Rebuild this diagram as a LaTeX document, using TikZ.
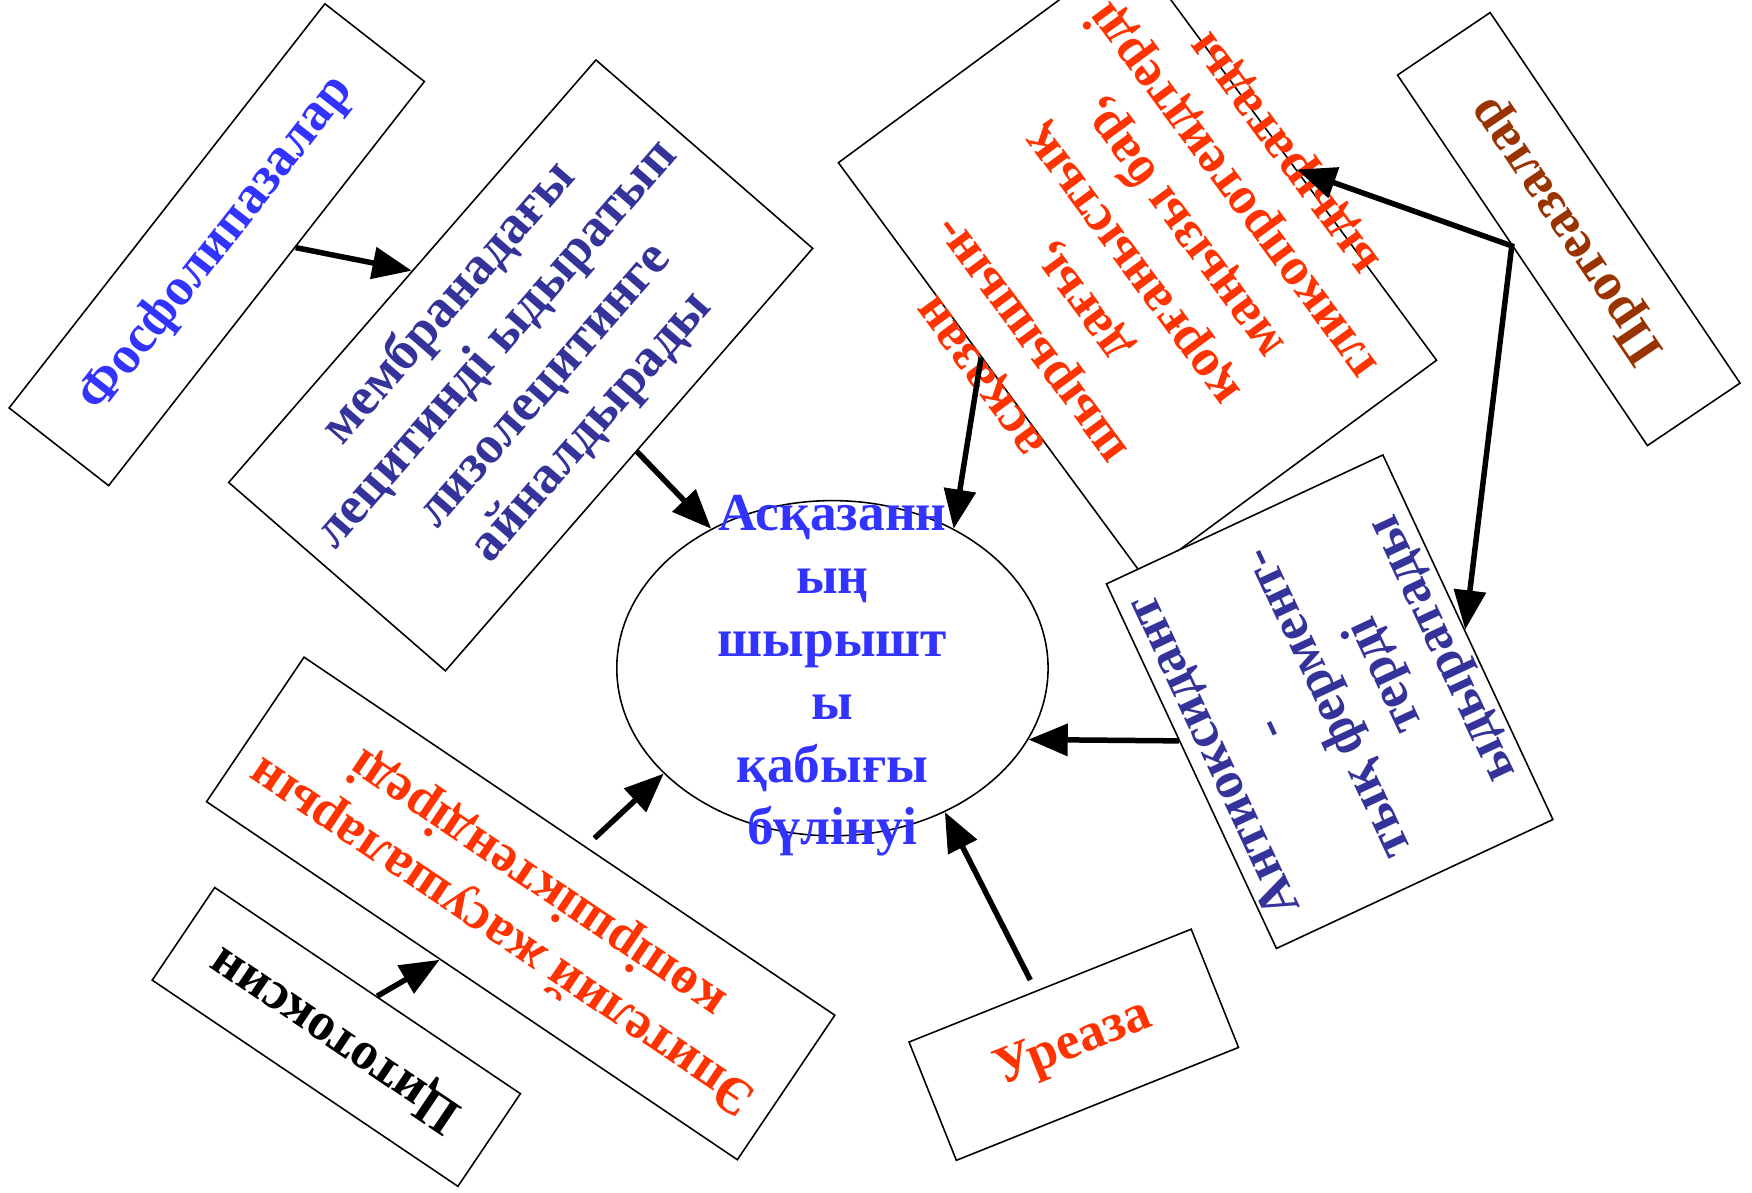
\documentclass[tikz,border=0pt]{standalone}
\usepackage{fontspec}
\setmainfont{Liberation Serif}
\usetikzlibrary{arrows.meta,calc,shapes.geometric}
\definecolor{txtblue}{HTML}{3333FF}
\definecolor{txtnavy}{HTML}{333399}
\definecolor{txtred}{HTML}{FF3300}
\definecolor{txtbrown}{HTML}{993300}

\begin{document}
\begin{tikzpicture}[>={Triangle[length=10pt,width=8pt]},
  frame/.style={draw,fill=white,line width=0.4pt,inner sep=0pt},
  lab/.style={font=\bfseries\fontsize{13.6}{16}\selectfont,align=center,inner sep=0pt},
  arr/.style={->,line width=1.4pt}]
\useasboundingbox (0,0) rectangle (15.68,-10.67);
% left column
\node[frame,minimum width=4.59cm,minimum height=1.13cm,rotate=52] (b1) at (1.94,-2.19) {};
\node[lab,txtblue,rotate=52] (t1) at (b1) {Фосфолипазалар};
\node[frame,minimum width=5.01cm,minimum height=2.57cm,rotate=49] (b2) at (4.66,-3.27) {};
\node[lab,txtnavy,rotate=49] (t2) at (b2) {мембранадағы\\лецитинді ыдыратып\\лизолецитинге\\айналдырады};
% right column (text runs out of the red box)
\node[frame,minimum width=4.60cm,minimum height=3.26cm,rotate=126.4] (b3) at (10.18,-2.34) {};
\node[lab,txtred,rotate=126.4] (t3) at (b3) {асқазан\\шырышын-\\дағы,\\қорғаныстық\\маңызы бар,\\гликопротеидтерді\\ыдыратады};
\node[frame,minimum width=4.00cm,minimum height=1.00cm,rotate=124] (b4) at (14.04,-2.05) {};
\node[lab,txtbrown,rotate=124] (t4) at (b4) {Протеазалар};
\node[frame,minimum width=3.60cm,minimum height=2.73cm,rotate=115] (b5) at (11.90,-6.28) {};
\node[lab,txtnavy,rotate=115] (t5) at (b5) {Антиоксидант\\-\\тық фермент-\\терді\\ыдыратады};
% bottom row
\node[frame,minimum width=5.73cm,minimum height=1.56cm,rotate=146] (b6) at (4.66,-8.13) {};
\node[lab,txtred,rotate=146] (t6) at (b6) {Эпителий жасушаларын\\көпіршіктендіреді};
\node[frame,minimum width=3.30cm,minimum height=1.00cm,rotate=146] (b7) at (3.01,-9.28) {};
\node[lab,rotate=146] (t7) at (b7) {Цитотоксин};
\node[frame,minimum width=2.72cm,minimum height=1.14cm,rotate=21.8] (b8) at (9.61,-9.35) {};
\node[lab,txtred,rotate=21.8] (t8) at (b8) {Уреаза};
% centre
\node[ellipse,draw,line width=0.4pt,minimum width=3.86cm,minimum height=3cm,inner sep=0pt] (ell) at (7.45,-5.98) {};
\node[lab,txtblue] (tell) at (7.45,-6.05) {Асқазанн\\ың\\шырышт\\ы\\қабығы\\бүлінуі};
% arrows
\coordinate (pj) at ($(b4.north west)!0.54!(b4.north east)$);
\draw[arr] ($(b1.south west)!0.59!(b1.south east)$) -- (b2.north);
\draw[arr] ($(b2.south west)!0.52!(b2.south east)$) -- (ell.131);
\draw[arr,<->] ($(b3.south west)!0.46!(b3.south east)$) -- (pj) -- ($(b5.south west)!0.52!(b5.south east)$);
\draw[arr] ($(b3.north west)!0.53!(b3.north east)$) -- (ell.49);
\draw[arr] ($(b5.north west)!0.57!(b5.north east)$) -- (ell.-20);
\draw[arr,shorten <=3pt] ($(b8.north west)!0.45!(b8.north east)$) -- (ell.-52);
\draw[arr,shorten <=3pt] ($(b6.south west)!0.47!(b6.south east)$) -- (ell.212);
\draw[arr] ($(b7.south west)!0.47!(b7.south east)$) -- ($(b6.north west)!0.56!(b6.north east)$);
\end{tikzpicture}
\end{document}
